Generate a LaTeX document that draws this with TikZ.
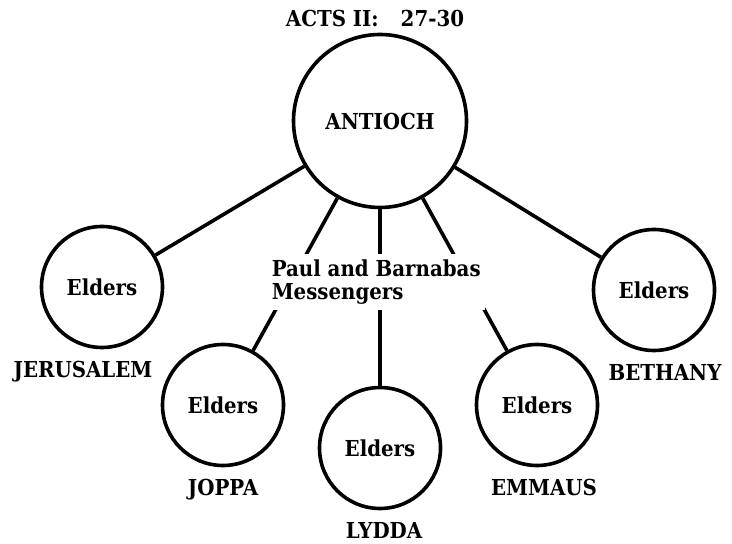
\documentclass[tikz,border=0pt]{standalone}
\usepackage{fontspec}
\setmainfont{DejaVu Serif Condensed}
\usepackage{tikz}
\usetikzlibrary{positioning}

\begin{document}
\begin{tikzpicture}[
    x=0.5pt, y=-0.5pt,
    line width=1.8pt,
    every node/.style={font=\fontsize{11}{11.5}\selectfont\bfseries},
    church/.style={circle, draw, inner sep=0pt, minimum size=60.5pt},
    town/.style={inner sep=0pt}
]
\useasboundingbox (0,0) rectangle (732,544);
\node (title) at (375,18) {ACTS II:\quad 27-30};
\node (antioch) [church, minimum size=86.5pt] at (380,121) {ANTIOCH};
\node (jerusalem) [church] at (102,287) {Elders};
\node (bethany) [church] at (654,290) {Elders};
\node (joppa) [church] at (223,405) {Elders};
\node (lydda) [church] at (380,448) {Elders};
\node (emmaus) [church] at (537,405) {Elders};
% names under the circles
\node (jerusalemname) [town, below=5pt of jerusalem, xshift=-9.5pt] {JERUSALEM};
\node (bethanyname) [town, below=5pt of bethany, xshift=5.5pt] {BETHANY};
\node (joppaname) [town, below=5pt of joppa] {JOPPA};
\node (lyddaname) [town, below=5pt of lydda, xshift=2pt] {LYDDA};
\node (emmausname) [town, below=5pt of emmaus, xshift=3.5pt] {EMMAUS};
\draw (antioch) -- (jerusalem);
\draw (antioch) -- (bethany);
\draw (antioch) -- (joppa);
\draw (antioch) -- (lydda);
\draw (antioch) -- (emmaus);
% the messengers sit over the three lower lines
\node (messengers) [fill=white, align=left, inner xsep=2pt, inner ysep=3pt,
                    anchor=north west] at (266,252) {Paul and Barnabas\\Messengers};
\end{tikzpicture}
\end{document}
